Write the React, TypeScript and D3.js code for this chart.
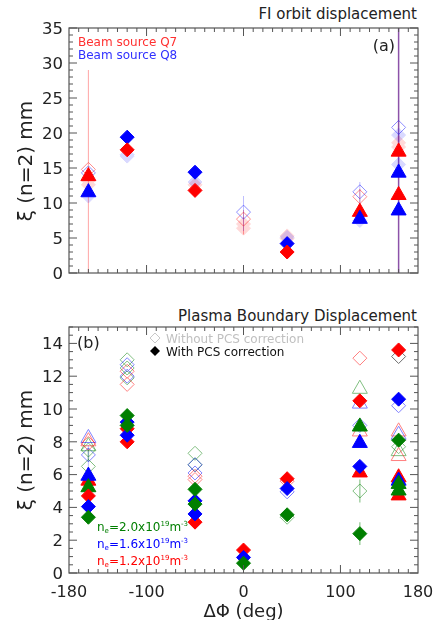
import React from 'react';
import * as d3 from 'd3';

// ΔΦ positions used in the scan (deg)
const phiTicks = [-180, -100, 0, 100, 180];

// ---- panel (a): FI orbit displacement, [ΔΦ, ξ mm]
const q7Diamond = [[-120, 17.6], [-50, 11.8], [45, 3.0]];
const q7Triangle = [[-160, 14.0], [120, 8.9], [160, 17.5], [160, 11.3]];
const q7Open = [[-160, 14.8], [0, 7.7], [120, 10.9]];
const q7Faded = [[-160, 13.2], [-160, 12.6], [-50, 12.6], [0, 7.0], [0, 6.4], [45, 5.3], [45, 4.9], [160, 18.6], [160, 18.0]];
const q8Diamond = [[-120, 19.4], [-50, 14.4], [45, 4.2]];
const q8Triangle = [[-160, 11.7], [120, 7.9], [160, 14.5], [160, 9.1]];
const q8Open = [[-160, 14.3], [0, 8.7], [120, 11.6], [160, 20.8]];
const q8Faded = [[-160, 11.0], [-120, 16.7], [-120, 16.9], [-50, 13.0], [45, 5.1], [120, 7.5], [160, 19.7], [160, 15.5]];
// error bars [ΔΦ, low, high]
const q7Err = [[-160, 0, 29], [0, 5.5, 9], [120, 9.5, 12]];
const q8Err = [[0, 6, 11], [120, 9, 13], [120, 7, 8.5]];
const q78Err = [[160, 0, 36]];

// ---- panel (b): plasma boundary displacement, [ΔΦ, ξ mm]
const ne20Diamond = [[-160, 3.4], [-120, 9.6], [-120, 9.0], [-50, 5.1], [-50, 4.2], [0, 0.6], [45, 3.55], [120, 2.4], [160, 8.1]];
const ne20Triangle = [[-160, 5.3], [120, 9.0], [160, 5.5], [160, 5.1]];
const ne20OpenDiamond = [[-160, 7.5], [-160, 6.5], [-120, 13.0], [-120, 12.5], [-120, 11.9], [-50, 7.3], [-50, 6.6], [45, 3.4], [120, 5.0], [160, 7.7]];
const ne20OpenTriangle = [[-160, 7.8], [120, 11.3], [160, 7.5]];
const ne16Diamond = [[-160, 4.05], [-120, 9.2], [-120, 8.4], [-50, 4.4], [-50, 3.6], [0, 0.95], [45, 5.15], [120, 6.5], [160, 10.6]];
const ne16Triangle = [[-160, 6.0], [120, 8.0], [160, 5.7]];
const ne16OpenDiamond = [[-160, 7.2], [-120, 12.7], [-120, 12.0], [-50, 6.6], [-50, 6.1], [45, 4.95], [120, 9.0], [160, 10.2]];
const ne16OpenTriangle = [[-160, 8.3], [120, 10.4], [160, 8.5]];
const ne12Diamond = [[-160, 4.7], [-120, 8.8], [-120, 8.0], [-50, 3.1], [0, 1.4], [45, 5.75], [120, 10.5], [160, 13.6]];
const ne12Triangle = [[-160, 5.7], [120, 6.2], [160, 5.9], [160, 4.8]];
const ne12OpenDiamond = [[-160, 7.9], [-120, 12.3], [-120, 11.5], [-50, 5.9], [-50, 5.7], [45, 5.6], [120, 13.1]];
const ne12OpenTriangle = [[-160, 8.1], [120, 8.7], [160, 8.7], [160, 7.2]];
const mixedOpenDiamond = [[160, 13.2]];
const ne20Err = [[120, 4.3, 5.7], [120, 1.7, 3.1], [-160, 6.8, 7.6]];
const ne16Err = [[-160, 6.3, 7.8]];

const RED = '#ff0000';
const BLUE = '#0000ff';
const GREEN = '#007f00';
const FONT = 'DejaVu Sans, Verdana, sans-serif';

const diamond = (r: number) => `M0,${-r}L${r},0L0,${r}L${-r},0Z`;
const triangle = (r: number) => `M0,${-r}L${r},${r * 0.75}L${-r},${r * 0.75}Z`;

const left = 69, right = 418;
const x = d3.scaleLinear().domain([-180, 180]).range([left, right]);

type Pt = number[];

function Marks({ data, y, shape, color, filled, opacity = 1 }:
  { data: Pt[]; y: d3.ScaleLinear<number, number>; shape: 'd' | 't'; color: string; filled: boolean; opacity?: number }) {
  const path = shape === 'd' ? diamond(7) : triangle(7.5);
  return (
    <g opacity={opacity}>
      {data.map((d, i) => (
        <path key={i} d={path} transform={`translate(${x(d[0])},${y(d[1])})`}
          fill={filled ? color : 'none'} stroke={color} strokeWidth={1} />
      ))}
    </g>
  );
}

function Errs({ data, y, color, opacity = 1, width = 1 }:
  { data: Pt[]; y: d3.ScaleLinear<number, number>; color: string; opacity?: number; width?: number }) {
  return (
    <g opacity={opacity}>
      {data.map((d, i) => (
        <line key={i} x1={x(d[0])} x2={x(d[0])} y1={y(d[1])} y2={y(d[2])} stroke={color} strokeWidth={width} />
      ))}
    </g>
  );
}

function Frame({ y, major, minor, showX, maxLabel }:
  { y: d3.ScaleLinear<number, number>; major: number; minor: number; showX: boolean; maxLabel: number }) {
  const [y0, y1] = y.range();
  const [d0, d1] = y.domain();
  const yMinor = d3.range(d0, d1 + 1e-9, minor);
  const xMinor = d3.range(-170, 180, 10);
  const xMajor = [-100, 0, 100];
  const tc = '#555';
  return (
    <g>
      <rect x={left} y={y1} width={right - left} height={y0 - y1} fill="none" stroke={tc} strokeWidth={1.2} />
      {yMinor.map((v, i) => {
        const isMajor = Math.abs(v / major - Math.round(v / major)) < 1e-6;
        const len = isMajor ? 8 : 4;
        return (
          <g key={i}>
            <line x1={left} x2={left + len} y1={y(v)} y2={y(v)} stroke={tc} />
            <line x1={right} x2={right - len} y1={y(v)} y2={y(v)} stroke={tc} />
            {isMajor && v <= maxLabel + 1e-9 && (
              <text x={left - 6} y={y(v)} dy="0.35em" textAnchor="end" fontSize={16.5} fill="#222" fontFamily={FONT}>{v}</text>
            )}
          </g>
        );
      })}
      {xMinor.map((v, i) => {
        const len = xMajor.includes(v) ? 8 : 4;
        return (
          <g key={i}>
            <line x1={x(v)} x2={x(v)} y1={y0} y2={y0 - len} stroke={tc} />
            <line x1={x(v)} x2={x(v)} y1={y1} y2={y1 + len} stroke={tc} />
          </g>
        );
      })}
      {showX && phiTicks.map((v, i) => (
        <text key={i} x={x(v)} y={y0 + 24} textAnchor="middle" fontSize={16} fill="#222" fontFamily={FONT}>{v}</text>
      ))}
    </g>
  );
}

function Ne({ yPos, val, color }: { yPos: number; val: string; color: string }) {
  return (
    <text x={97} y={yPos} fontSize={12} fill={color} fontFamily={FONT}>
      n<tspan fontSize={7} dy={2}>e</tspan><tspan dy={-2}>={val}x10</tspan>
      <tspan fontSize={7} dy={-5}>19</tspan><tspan dy={5}>m</tspan>
      <tspan fontSize={7} dy={-5}>-3</tspan>
    </text>
  );
}

export default function App() {
  const yA = d3.scaleLinear().domain([0, 35]).range([273, 28]);
  const yB = d3.scaleLinear().domain([0, 15]).range([573, 327]);
  return (
    <svg width={438} height={620} style={{ position: 'absolute', left: 0, top: 0, background: '#fff' }}>
      {/* panel (a) */}
      <text x={417} y={19} textAnchor="end" fontSize={15} fill="#222" fontFamily={FONT}>FI orbit displacement</text>
      <defs>
        <clipPath id="clipA"><rect x={left} y={28} width={right - left} height={245} /></clipPath>
      </defs>
      <g clipPath="url(#clipA)">
        <Errs data={q7Err} y={yA} color={RED} opacity={0.35} />
        <Errs data={q8Err} y={yA} color={BLUE} opacity={0.25} />
        <Errs data={q78Err} y={yA} color="#8040a0" opacity={0.9} width={1.5} />
      </g>
      <Marks data={q7Faded} y={yA} shape="d" color={RED} filled opacity={0.15} />
      <Marks data={q8Faded} y={yA} shape="d" color={BLUE} filled opacity={0.15} />
      <Marks data={q7Open} y={yA} shape="d" color={RED} filled={false} opacity={0.45} />
      <Marks data={q8Open} y={yA} shape="d" color={BLUE} filled={false} opacity={0.45} />
      <Marks data={q8Diamond} y={yA} shape="d" color={BLUE} filled />
      <Marks data={q7Diamond} y={yA} shape="d" color={RED} filled />
      <Marks data={q7Triangle} y={yA} shape="t" color={RED} filled />
      <Marks data={q8Triangle} y={yA} shape="t" color={BLUE} filled />
      <Frame y={yA} major={5} minor={1} showX={false} maxLabel={35} />
      <text x={78} y={46} fontSize={12} fill="#ff3030" fontFamily={FONT}>Beam source Q7</text>
      <text x={78} y={58.5} fontSize={12} fill="#3030ff" fontFamily={FONT}>Beam source Q8</text>
      <text x={395} y={51} textAnchor="end" fontSize={16} fill="#222" fontFamily={FONT}>(a)</text>
      <text transform={`translate(32,${yA(16)}) rotate(-90)`} textAnchor="middle" fontSize={20} fill="#222" fontFamily={FONT}>ξ (n=2) mm</text>

      {/* panel (b) */}
      <text x={417} y={321} textAnchor="end" fontSize={15} fill="#222" fontFamily={FONT}>Plasma Boundary Displacement</text>
      <Errs data={ne20Err} y={yB} color={GREEN} opacity={0.35} width={1.5} />
      <Errs data={ne16Err} y={yB} color={BLUE} opacity={0.25} />
      <Marks data={ne20OpenDiamond} y={yB} shape="d" color={GREEN} filled={false} opacity={0.5} />
      <Marks data={ne16OpenDiamond} y={yB} shape="d" color={BLUE} filled={false} opacity={0.5} />
      <Marks data={ne12OpenDiamond} y={yB} shape="d" color={RED} filled={false} opacity={0.5} />
      <Marks data={mixedOpenDiamond} y={yB} shape="d" color="#333" filled={false} opacity={0.7} />
      <Marks data={ne20OpenTriangle} y={yB} shape="t" color={GREEN} filled={false} opacity={0.5} />
      <Marks data={ne16OpenTriangle} y={yB} shape="t" color={BLUE} filled={false} opacity={0.5} />
      <Marks data={ne12OpenTriangle} y={yB} shape="t" color={RED} filled={false} opacity={0.5} />
      <Marks data={ne12Triangle} y={yB} shape="t" color={RED} filled />
      <Marks data={ne16Triangle} y={yB} shape="t" color={BLUE} filled />
      <Marks data={ne20Triangle} y={yB} shape="t" color={GREEN} filled />
      <Marks data={ne12Diamond} y={yB} shape="d" color={RED} filled />
      <Marks data={ne16Diamond} y={yB} shape="d" color={BLUE} filled />
      <Marks data={ne20Diamond} y={yB} shape="d" color={GREEN} filled />
      <Frame y={yB} major={2} minor={0.5} showX maxLabel={14} />
      <text x={77} y={348} fontSize={16} fill="#222" fontFamily={FONT}>(b)</text>
      <path d={diamond(5)} transform="translate(155,338)" fill="none" stroke="#c8c8c8" />
      <text x={166} y={342.5} fontSize={12} fill="#c0c0c0" fontFamily={FONT}>Without PCS correction</text>
      <path d={diamond(5)} transform="translate(155,351)" fill="#000" />
      <text x={166} y={355.5} fontSize={12} fill="#111" fontFamily={FONT}>With PCS correction</text>
      <Ne yPos={531} val="2.0" color={GREEN} />
      <Ne yPos={548} val="1.6" color={BLUE} />
      <Ne yPos={565} val="1.2" color={RED} />
      <text transform={`translate(32,${yB(7.5)}) rotate(-90)`} textAnchor="middle" fontSize={20} fill="#222" fontFamily={FONT}>ξ (n=2) mm</text>
      <text x={x(0)} y={617} textAnchor="middle" fontSize={18} fill="#222" fontFamily={FONT}>ΔΦ (deg)</text>
    </svg>
  );
}
